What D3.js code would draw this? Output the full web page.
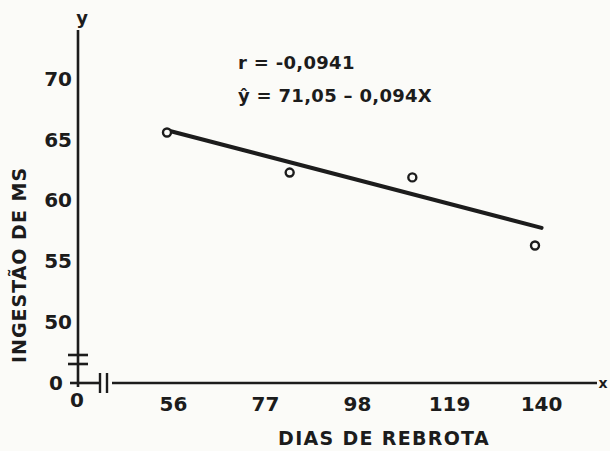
<!DOCTYPE html>
<html>
<head>
<meta charset="utf-8">
<script src="https://cdn.jsdelivr.net/npm/d3@7"></script>
<style>
  html, body { margin: 0; padding: 0; background: #fbfbf8; }
  svg { display: block; }
  text { font-family: "DejaVu Sans", sans-serif; fill: #1c1c1c; }
</style>
</head>
<body>
<svg id="chart" width="610" height="451"></svg>
<script>
// ---- data ----
const xTickValues = [56, 77, 98, 119, 140];
const yTickValues = [50, 55, 60, 65, 70];
const days = [56, 84, 112, 140];              // DIAS DE REBROTA
const intake = [65.6, 62.3, 61.9, 56.3];       // INGESTÃO DE MS
const regIntercept = 71.05;
const regSlope = -0.094;
const regRange = [56, 141.5];
const eqLines = ["r = -0,0941", "ŷ = 71,05 – 0,094X"];
const xTitle = "DIAS DE REBROTA";
const yTitle = "INGESTÃO DE MS";

// ---- layout ----
const W = 610, H = 451;
const ink = "#1c1c1c";
const axisX = 78;      // vertical axis position (x = 0, broken)
const axisY = 383;     // horizontal axis position (y = 0, broken)

const svg = d3.select("#chart");

const x = d3.scaleLinear().domain([56, 140]).range([167, 535]);
const y = d3.scaleLinear().domain([50, 70]).range([322, 79]);

// y axis line
svg.append("line").attr("x1", axisX).attr("x2", axisX).attr("y1", 30).attr("y2", axisY + 4)
  .attr("stroke", ink).attr("stroke-width", 2.6);
// y axis break marks
[355, 364].forEach(yy => svg.append("line").attr("x1", axisX - 10).attr("x2", axisX + 10)
  .attr("y1", yy).attr("y2", yy).attr("stroke", ink).attr("stroke-width", 2.6));

// x axis segments
svg.append("line").attr("x1", 70).attr("x2", 99).attr("y1", axisY).attr("y2", axisY)
  .attr("stroke", ink).attr("stroke-width", 2.6);
svg.append("line").attr("x1", 112).attr("x2", 597).attr("y1", axisY).attr("y2", axisY)
  .attr("stroke", ink).attr("stroke-width", 2.6);
// x axis break marks
[100, 107].forEach(xx => svg.append("line").attr("x1", xx).attr("x2", xx)
  .attr("y1", axisY - 10).attr("y2", axisY + 10).attr("stroke", ink).attr("stroke-width", 2.4));

// axis end letters
svg.append("text").attr("x", 82).attr("y", 24).attr("text-anchor", "middle")
  .style("font-size", "18px").style("font-weight", "bold").text("y");
svg.append("text").attr("x", 603).attr("y", 388).attr("text-anchor", "middle")
  .style("font-size", "14px").style("font-weight", "bold").text("x");

// y tick labels
const yAxis = d3.axisLeft(y).tickValues(yTickValues).tickSize(0).tickPadding(6).tickFormat(d3.format("d"));
const gy = svg.append("g").attr("transform", `translate(${axisX},0)`).call(yAxis);
gy.select(".domain").remove();
gy.selectAll("text").style("font-size", "20px").style("font-weight", "bold")
  .style("font-family", "'DejaVu Sans', sans-serif").attr("fill", ink);

// x tick labels
const xAxis = d3.axisBottom(x).tickValues(xTickValues).tickSize(0).tickPadding(14).tickFormat(d3.format("d"));
const gx = svg.append("g").attr("transform", `translate(0,${axisY})`).call(xAxis);
gx.select(".domain").remove();
gx.selectAll("text").attr("dx", 6).style("font-size", "20px").style("font-weight", "bold")
  .style("font-family", "'DejaVu Sans', sans-serif").attr("fill", ink);

// zero labels at the broken origin
svg.append("text").attr("x", axisX - 22).attr("y", axisY + 7).attr("text-anchor", "middle")
  .style("font-size", "20px").style("font-weight", "bold").text("0");
svg.append("text").attr("x", axisX - 1).attr("y", axisY + 24).attr("text-anchor", "middle")
  .style("font-size", "20px").style("font-weight", "bold").text("0");

// axis titles
svg.append("text").attr("x", 384).attr("y", 445).attr("text-anchor", "middle")
  .style("font-size", "19px").style("font-weight", "bold").style("letter-spacing", "1.3px").text(xTitle);
svg.append("text").attr("transform", "translate(26,265) rotate(-90)").attr("text-anchor", "middle")
  .style("font-size", "19px").style("font-weight", "bold").style("letter-spacing", "1px").text(yTitle);

// regression line
const line = d3.line().x(d => x(d)).y(d => y(regIntercept + regSlope * d));
svg.append("path").datum(regRange).attr("d", line).attr("fill", "none")
  .attr("stroke", ink).attr("stroke-width", 4).attr("stroke-linecap", "round");

// points
svg.selectAll("circle.pt").data(days.map((d, i) => [d, intake[i]])).enter()
  .append("circle").attr("class", "pt")
  .attr("cx", d => x(d[0])).attr("cy", d => y(d[1])).attr("r", 4)
  .attr("fill", "#fbfbf8").attr("stroke", ink).attr("stroke-width", 2.4);

// equation text
svg.selectAll("text.eq").data(eqLines).enter().append("text").attr("class", "eq")
  .attr("x", 238).attr("y", (d, i) => 69 + i * 33)
  .style("font-size", "18px").style("font-weight", "bold").style("letter-spacing", "0.3px").text(d => d);
</script>
</body>
</html>
